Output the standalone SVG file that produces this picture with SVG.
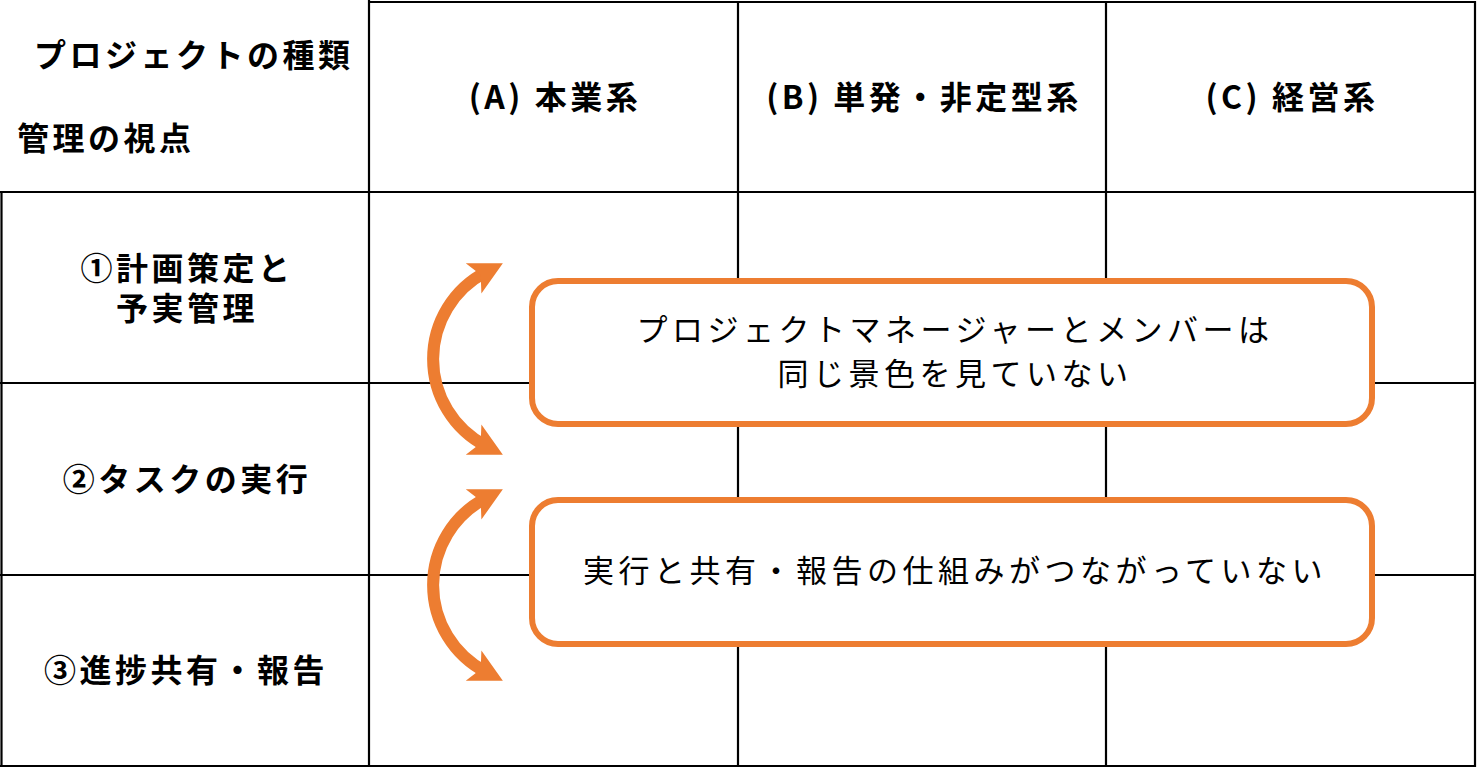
<svg xmlns="http://www.w3.org/2000/svg" width="1478" height="770" viewBox="0 0 1478 770">
<defs>
<style>
.grid{stroke:#000;stroke-width:2.2;fill:none}
.hd{font-family:"Noto Sans CJK JP","Noto Sans",sans-serif;font-weight:700;font-size:32px;fill:#000;letter-spacing:3.5px}
.bx{fill:#fff;stroke:#ED7D31;stroke-width:6}
.bt{font-family:"Noto Sans CJK JP","Noto Sans",sans-serif;font-weight:400;font-size:31px;fill:#000;letter-spacing:4.5px}
.arc{fill:none;stroke:#ED7D31;stroke-width:12}
</style>
<marker id="head" markerUnits="userSpaceOnUse" markerWidth="40" markerHeight="40" viewBox="0 -20 34 40" refX="14" refY="0" orient="auto-start-reverse">
<path d="M0,-17 L33,0 L0,17 L8,0 Z" fill="#ED7D31"/>
</marker>
</defs>
<rect width="1478" height="770" fill="#fff"/>
<g id="grid">
<line class="grid" x1="369" y1="0" x2="369" y2="767"/>
<line class="grid" x1="738" y1="1" x2="738" y2="767"/>
<line class="grid" x1="1106" y1="1" x2="1106" y2="767"/>
<line class="grid" x1="1475" y1="1" x2="1475" y2="767"/>
<line class="grid" x1="1.5" y1="191" x2="1.5" y2="767"/>
<line class="grid" x1="368" y1="2" x2="1476" y2="2"/>
<line class="grid" x1="0" y1="192" x2="1476" y2="192"/>
<line class="grid" x1="0" y1="383" x2="1476" y2="383"/>
<line class="grid" x1="0" y1="575" x2="1476" y2="575"/>
<line class="grid" x1="0" y1="766" x2="1476" y2="766"/>
</g>
<g id="header-corner">
<text class="hd" x="34" y="67">プロジェクトの種類</text>
<text class="hd" x="17" y="150">管理の視点</text>
</g>
<g id="col-a"><text class="hd" x="555" y="109" text-anchor="middle">(A) 本業系</text></g>
<g id="col-b"><text class="hd" x="924" y="109" text-anchor="middle">(B) 単発・非定型系</text></g>
<g id="col-c"><text class="hd" x="1292" y="109" text-anchor="middle">(C) 経営系</text></g>
<g id="row-1">
<text class="hd" x="187" y="280" text-anchor="middle">①計画策定と</text>
<text class="hd" x="187" y="320" text-anchor="middle">予実管理</text>
</g>
<g id="row-2"><text class="hd" x="187" y="491" text-anchor="middle">②タスクの実行</text></g>
<g id="row-3"><text class="hd" x="186" y="682" text-anchor="middle">③進捗共有・報告</text></g>
<g id="connectors">
<path class="arc" d="M486,272 A98,98 0 0 0 486,446" marker-start="url(#head)" marker-end="url(#head)"/>
<path class="arc" d="M486,498 A98,98 0 0 0 486,672" marker-start="url(#head)" marker-end="url(#head)"/>
</g>
<g id="box-1">
<rect class="bx" x="532" y="281" width="840" height="143" rx="26"/>
<text class="bt" x="955" y="341" text-anchor="middle">プロジェクトマネージャーとメンバーは</text>
<text class="bt" x="955" y="385" text-anchor="middle">同じ景色を見ていない</text>
</g>
<g id="box-2">
<rect class="bx" x="532" y="500" width="840" height="144" rx="26"/>
<text class="bt" x="955" y="582" text-anchor="middle">実行と共有・報告の仕組みがつながっていない</text>
</g>
</svg>
